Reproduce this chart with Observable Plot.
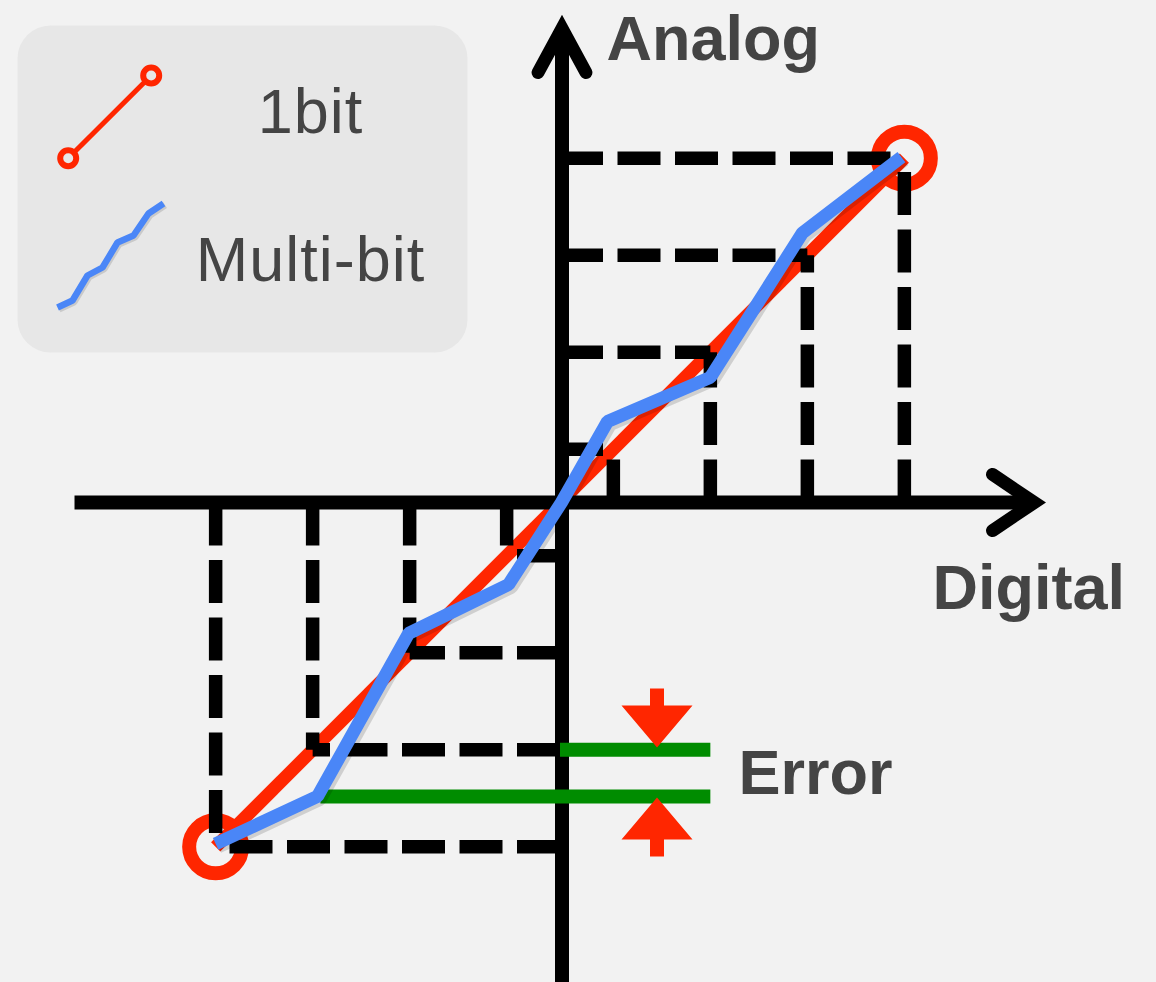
<!DOCTYPE html>
<html>
<head>
<meta charset="utf-8">
<script src="https://cdn.jsdelivr.net/npm/d3@7"></script>
<script src="https://cdn.jsdelivr.net/npm/@observablehq/plot@0.6"></script>
<style>
  html, body { margin: 0; padding: 0; background: #f2f2f2; }
  #wrap { position: relative; width: 1156px; height: 982px; overflow: hidden; }
  #legend { position: absolute; left: 0; top: 0; }
  #legend text { letter-spacing: 1px; }
</style>
</head>
<body>
<div id="wrap"></div>
<script>
// ---- data (diagram units: one quantization step = 1) ----
const digitalCodes = [-3.55, -2.55, -1.55, -0.55, 0.55, 1.55, 2.55, 3.55];
const analogLevels = [-3.55, -2.55, -1.55, -0.55, 0.55, 1.55, 2.55, 3.55];

const oneBitX = [-3.55, 3.55];
const oneBitY = [-3.55, 3.55];

const multiBitX = [-3.55, -2.5, -1.56, -0.53, 0.015, 0.49, 1.55, 2.5, 3.52];
const multiBitY = [-3.52, -3.03, -1.35, -0.845, 0, 0.835, 1.29, 2.78, 3.56];

const errorLevelY = [-2.55, -3.03];
const errorStartX = [0, -2.47];
const errorEndX = [1.55, 1.55];

const errorArrowX = [1.0, 1.0];
const errorArrowY = [-2.526, -3.041];
const errorArrowDir = ["down", "up"];

const xAxisExtent = [-5.005, 4.89];
const yAxisExtent = [-5.1, 4.887];
const xArrowHeadX = [4.459, 4.89, 4.459];
const xArrowHeadY = [0.289, 0, -0.289];
const yArrowHeadX = [-0.247, 0, 0.247];
const yArrowHeadY = [4.433, 4.887, 4.433];

const labelText = ["Analog", "Digital", "Error"];
const labelX = [0.479, 3.84, 1.84];
const labelY = [4.567, -1.103, -3.0];

// legend (legend box units)
const legendNames = ["1bit", "Multi-bit"];
const legendTextX = [310, 310];
const legendTextY = [132, 280];
const legendRedX = [67.7, 150.7];
const legendRedY = [157.7, 75];
const legendBlueX = [57, 72, 87, 102, 117, 133, 148, 163];
const legendBlueY = [307, 300, 275, 267, 242, 235, 213, 203];

// ---- build tables ----
const steps = digitalCodes.map((c, i) => ({code: c, level: analogLevels[i]}));
const oneBit = oneBitX.map((x, i) => ({x, y: oneBitY[i]}));
const multiBit = multiBitX.map((x, i) => ({x, y: multiBitY[i]}));
const errors = errorLevelY.map((y, i) => ({y, x1: errorStartX[i], x2: errorEndX[i]}));
const arrows = errorArrowX.map((x, i) => ({x, y: errorArrowY[i], dir: errorArrowDir[i]}));
const labels = labelText.map((t, i) => ({t, x: labelX[i], y: labelY[i]}));
const legendRed = legendRedX.map((x, i) => ({x, y: legendRedY[i]}));
const legendBlue = legendBlueX.map((x, i) => ({x, y: legendBlueY[i]}));

const RED = "#ff2600", BLUE = "#4a86f7", GREEN = "#008c00", INK = "#444444";
const FONT = "'Liberation Sans', Helvetica, Arial, sans-serif";

const arrowDown = {draw(ctx) {
  ctx.moveTo(0, 0); ctx.lineTo(-35.5, -42); ctx.lineTo(-7, -42); ctx.lineTo(-7, -59);
  ctx.lineTo(7, -59); ctx.lineTo(7, -42); ctx.lineTo(35.5, -42); ctx.closePath();
}};
const arrowUp = {draw(ctx) {
  ctx.moveTo(0, 0); ctx.lineTo(-35.5, 42); ctx.lineTo(-7, 42); ctx.lineTo(-7, 59);
  ctx.lineTo(7, 59); ctx.lineTo(7, 42); ctx.lineTo(35.5, 42); ctx.closePath();
}};

const W = 1156, H = 982, OX = 559.5, OY = 502, U = 97;

const main = Plot.plot({
  width: W, height: H, margin: 0,
  x: {domain: [-OX / U, (W - OX) / U], range: [0, W], axis: null},
  y: {domain: [-(H - OY) / U, OY / U], range: [H, 0], axis: null},
  style: {background: "#f2f2f2", fontFamily: FONT},
  marks: [
    Plot.line(oneBit, {x: "x", y: "y", stroke: RED, strokeWidth: 13, strokeLinecap: "butt"}),
    Plot.dot(oneBit, {x: "x", y: "y", r: 26.5, stroke: RED, strokeWidth: 14, fill: "none"}),
    Plot.link(steps, {x1: "code", y1: () => 0, x2: "code", y2: "level",
      stroke: "black", strokeWidth: 13.5, strokeDasharray: "43,14.5"}),
    Plot.link(steps, {x1: () => 0, y1: "level", x2: "code", y2: "level",
      stroke: "black", strokeWidth: 13.5, strokeDasharray: "43,14.5"}),
    Plot.line(xAxisExtent.map(x => ({x, y: 0})), {x: "x", y: "y", stroke: "black", strokeWidth: 14, strokeLinecap: "butt"}),
    Plot.line(yAxisExtent.map(y => ({x: 0, y})), {x: "x", y: "y", dx: 2, stroke: "black", strokeWidth: 14, strokeLinecap: "butt"}),
    Plot.line(xArrowHeadX.map((x, i) => ({x, y: xArrowHeadY[i]})), {x: "x", y: "y", stroke: "black", strokeWidth: 13,
      strokeLinecap: "round", strokeLinejoin: "miter", strokeMiterlimit: 10}),
    Plot.line(yArrowHeadX.map((x, i) => ({x, y: yArrowHeadY[i]})), {x: "x", y: "y", dx: 2, stroke: "black", strokeWidth: 13,
      strokeLinecap: "round", strokeLinejoin: "miter", strokeMiterlimit: 10}),
    Plot.link(errors, {x1: "x1", x2: "x2", y1: "y", y2: "y", stroke: GREEN, strokeWidth: 14}),
    // soft shadow under the multi-bit line
    Plot.line(multiBit, {x: "x", y: "y", dx: 2.5, dy: 2.5, stroke: "black", strokeOpacity: 0.14, strokeWidth: 14,
      strokeLinecap: "butt", strokeLinejoin: "miter"}),
    Plot.line(multiBit, {x: "x", y: "y", stroke: BLUE, strokeWidth: 13, strokeLinecap: "butt", strokeLinejoin: "miter"}),
    Plot.dot(arrows.filter(d => d.dir === "down"), {x: "x", y: "y", symbol: arrowDown, fill: RED, stroke: "none"}),
    Plot.dot(arrows.filter(d => d.dir === "up"), {x: "x", y: "y", symbol: arrowUp, fill: RED, stroke: "none"}),
    Plot.text(labels, {x: "x", y: "y", text: "t", textAnchor: "start", lineAnchor: "bottom",
      fontSize: 63, fontWeight: "bold", fill: INK})
  ]
});

const legend = Plot.plot({
  width: 480, height: 370, margin: 0,
  x: {domain: [0, 480], range: [0, 480], axis: null},
  y: {domain: [0, 370], range: [0, 370], axis: null},
  style: {background: "transparent", fontFamily: FONT},
  marks: [
    Plot.frame({fill: "#e7e7e7", stroke: null, rx: 33, insetLeft: 17, insetTop: 25, insetRight: 13, insetBottom: 18}),
    Plot.line(legendRed, {x: "x", y: "y", stroke: RED, strokeWidth: 5}),
    Plot.dot(legendRed, {x: "x", y: "y", r: 8, stroke: RED, strokeWidth: 6, fill: "#e7e7e7"}),
    Plot.line(legendBlue, {x: "x", y: "y", dx: 1.5, dy: 1.5, stroke: "black", strokeOpacity: 0.13, strokeWidth: 7,
      strokeLinecap: "butt", strokeLinejoin: "miter"}),
    Plot.line(legendBlue, {x: "x", y: "y", stroke: BLUE, strokeWidth: 6.5, strokeLinecap: "butt", strokeLinejoin: "miter"}),
    Plot.text(legendNames.map((t, i) => ({t, x: legendTextX[i], y: legendTextY[i]})), {x: "x", y: "y", text: "t",
      textAnchor: "middle", lineAnchor: "bottom", fontSize: 63, fill: INK})
  ]
});
legend.id = "legend";

const wrap = document.getElementById("wrap");
wrap.appendChild(main);
wrap.appendChild(legend);
</script>
</body>
</html>
